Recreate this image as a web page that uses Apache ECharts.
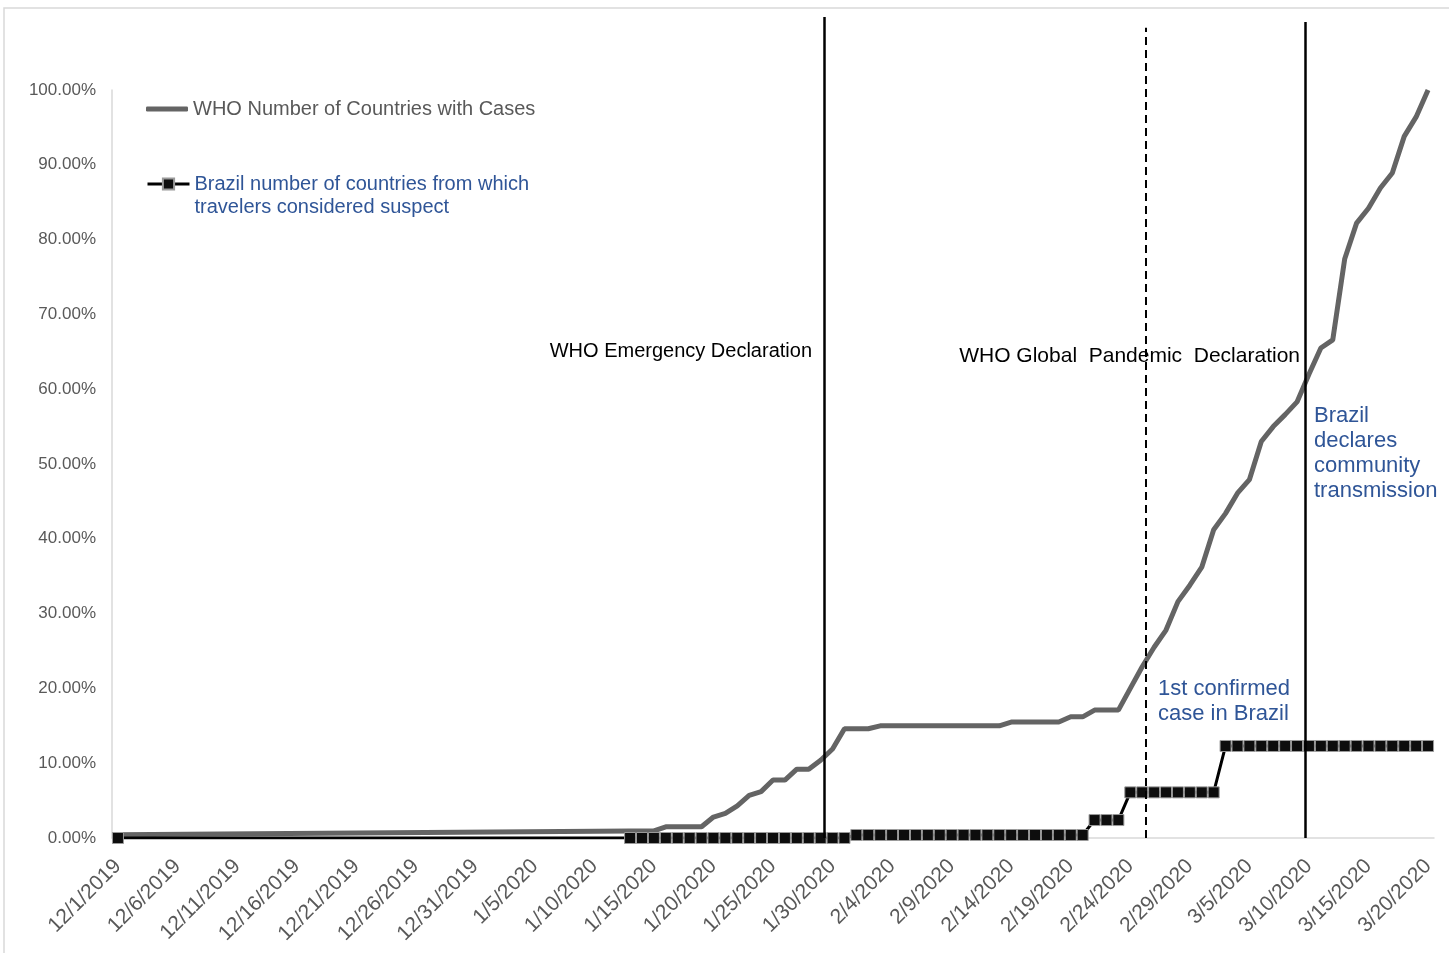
<!DOCTYPE html>
<html>
<head>
<meta charset="utf-8">
<script src="https://cdn.jsdelivr.net/npm/echarts@6/dist/echarts.min.js"></script>
<style>
html,body{margin:0;padding:0;background:#fff;}
#chart{width:1449px;height:953px;}
</style>
</head>
<body>
<div id="chart"></div>
<script>
// ---- data ----
const startDate = [2019, 12, 1];
const dayCount = 111; // 12/1/2019 .. 3/20/2020
const categories = [];
(function(){
  const d = new Date(startDate[0], startDate[1]-1, startDate[2]);
  for (let i = 0; i < dayCount; i++) {
    categories.push((d.getMonth()+1) + '/' + d.getDate() + '/' + d.getFullYear());
    d.setDate(d.getDate()+1);
  }
})();

const whoName = 'WHO Number of Countries with Cases';
const brazilName = 'Brazil number of countries from which\ntravelers considered suspect';

// WHO share of countries with cases (%), one value per day, null = no report
const whoValues = [
  0.45, null, null, null, null, null, null, null, null, null,
  null, null, null, null, null, null, null, null, null, null,
  null, null, null, null, null, null, null, null, null, null,
  null, null, null, null, null, null, null, null, null, null,
  null, null, null, 0.94, 0.94, 0.94, 1.5, 1.5, 1.5, 1.5,
  2.8, 3.3, 4.3, 5.7, 6.2, 7.75, 7.75, 9.2, 9.2, 10.4,
  11.9, 14.6, 14.6, 14.6, 15.0, 15.0, 15.0, 15.0, 15.0, 15.0,
  15.0, 15.0, 15.0, 15.0, 15.0, 15.5, 15.5, 15.5, 15.5, 15.5,
  16.2, 16.2, 17.1, 17.1, 17.1, 20.0, 22.9, 25.5, 27.8, 31.6,
  33.8, 36.2, 41.2, 43.4, 46.1, 47.9, 53.0, 55.0, 56.6, 58.3,
  62.0, 65.5, 66.6, 77.4, 82.2, 84.2, 86.9, 88.9, 93.8, 96.4,
  100.0
];

// Brazil share of countries whose travelers were considered suspect (%)
const brazilValues = [
  0, null, null, null, null, null, null, null, null, null,
  null, null, null, null, null, null, null, null, null, null,
  null, null, null, null, null, null, null, null, null, null,
  null, null, null, null, null, null, null, null, null, null,
  null, null, null, 0, 0, 0, 0, 0, 0, 0,
  0, 0, 0, 0, 0, 0, 0, 0, 0, 0,
  0, 0, 0.4, 0.4, 0.4, 0.4, 0.4, 0.4, 0.4, 0.4,
  0.4, 0.4, 0.4, 0.4, 0.4, 0.4, 0.4, 0.4, 0.4, 0.4,
  0.4, 0.4, 2.4, 2.4, 2.4, 6.1, 6.1, 6.1, 6.1, 6.1,
  6.1, 6.1, 6.1, 12.3, 12.3, 12.3, 12.3, 12.3, 12.3, 12.3,
  12.3, 12.3, 12.3, 12.3, 12.3, 12.3, 12.3, 12.3, 12.3, 12.3,
  12.3
];

// event lines (day index, as drawn) and their top (fraction of the tall frame)
const eventDay = [59.3, 86.3, 99.7];
const eventTop = [1.0, 0.987, 0.994];
const eventDash = ['solid', [8, 5], 'solid'];

const yTicks = [0, 10, 20, 30, 40, 50, 60, 70, 80, 90, 100];

// ---- chart ----
const FONT = '"Liberation Sans", Arial, sans-serif';
const GRAY_TXT = '#595959';
const BLUE_TXT = '#2F5597';
const chart = echarts.init(document.getElementById('chart'), null, {renderer: 'canvas'});

const eventLines = eventDay.map((x, i) => [
  {coord: [x, 0], lineStyle: {type: eventDash[i], width: i === 1 ? 2 : 2.5, color: '#000'}},
  {coord: [x, eventTop[i]]}
]);

const option = {
  backgroundColor: '#ffffff',
  animation: false,
  textStyle: {fontFamily: FONT},
  grid: [
    {left: 112, right: 15, top: 90, bottom: 115},
    {left: 112, right: 15, top: 17, bottom: 115}
  ],
  xAxis: [
    {
      type: 'category', gridIndex: 0, data: categories, boundaryGap: true,
      axisLine: {lineStyle: {color: '#d9d9d9', width: 1.5}},
      axisTick: {show: false},
      axisLabel: {rotate: 45, interval: 4, fontSize: 21, color: GRAY_TXT, fontFamily: FONT, margin: 25}
    },
    {type: 'value', gridIndex: 1, min: -0.5, max: dayCount - 0.5, show: false}
  ],
  yAxis: [
    {
      type: 'value', gridIndex: 0, min: yTicks[0], max: yTicks[yTicks.length-1], interval: 10,
      axisLine: {show: true, lineStyle: {color: '#d9d9d9', width: 1.5}},
      axisTick: {show: false},
      splitLine: {show: false},
      axisLabel: {fontSize: 17, color: GRAY_TXT, fontFamily: FONT, margin: 16,
        formatter: v => v.toFixed(2) + '%'}
    },
    {type: 'value', gridIndex: 1, min: 0, max: 1, show: false}
  ],
  legend: [
    {
      data: [{name: whoName, textStyle: {color: GRAY_TXT}}],
      left: 146, top: 99, padding: 0, itemWidth: 42, itemHeight: 5,
      icon: 'roundRect',
      itemStyle: {color: '#646464'},
      textStyle: {fontSize: 20, fontFamily: FONT, color: GRAY_TXT},
      selectedMode: false
    },
    {
      data: [{name: brazilName}],
      left: 146, top: 149.5, padding: 0, itemWidth: 42, itemHeight: 14,
      lineStyle: {width: 3, color: '#000'},
      formatter: name => ' \n' + name,
      textStyle: {fontSize: 20, fontFamily: FONT, color: BLUE_TXT, lineHeight: 23},
      selectedMode: false
    }
  ],
  series: [
    {
      name: whoName, type: 'line', xAxisIndex: 0, yAxisIndex: 0,
      data: whoValues, connectNulls: true, symbol: 'none',
      lineStyle: {color: '#646464', width: 5},
      itemStyle: {color: '#646464'},
      z: 2
    },
    {
      name: brazilName, type: 'line', xAxisIndex: 0, yAxisIndex: 0,
      data: brazilValues, connectNulls: true, symbol: 'rect', symbolSize: 11,
      showAllSymbol: true,
      lineStyle: {color: '#000', width: 3},
      itemStyle: {color: '#0d0d0d', borderColor: '#9a9a9a', borderWidth: 1},
      z: 3
    },
    {
      name: 'events', type: 'line', xAxisIndex: 1, yAxisIndex: 1, data: [],
      markLine: {symbol: 'none', silent: true, label: {show: false}, data: eventLines},
      z: 5
    }
  ],
  graphic: [
    {type: 'rect', shape: {x: 4, y: 8, width: 1460, height: 960}, style: {fill: 'none', stroke: '#d9d9d9', lineWidth: 1.5}, z: -1},
    {type: 'text', x: 812, y: 351, style: {text: 'WHO Emergency Declaration', font: '20px ' + FONT, fill: '#000', align: 'right', verticalAlign: 'middle'}},
    {type: 'text', x: 1300, y: 356, style: {text: 'WHO Global  Pandemic  Declaration', font: '21px ' + FONT, fill: '#000', align: 'right', verticalAlign: 'middle'}},
    {type: 'text', x: 1314, y: 403, style: {text: 'Brazil\ndeclares\ncommunity\ntransmission', font: '22px ' + FONT, lineHeight: 25, fill: BLUE_TXT, align: 'left', verticalAlign: 'top'}},
    {type: 'text', x: 1158, y: 676, style: {text: '1st confirmed\ncase in Brazil', font: '22px ' + FONT, lineHeight: 25, fill: BLUE_TXT, align: 'left', verticalAlign: 'top'}}
  ]
};
chart.setOption(option);
</script>
</body>
</html>
